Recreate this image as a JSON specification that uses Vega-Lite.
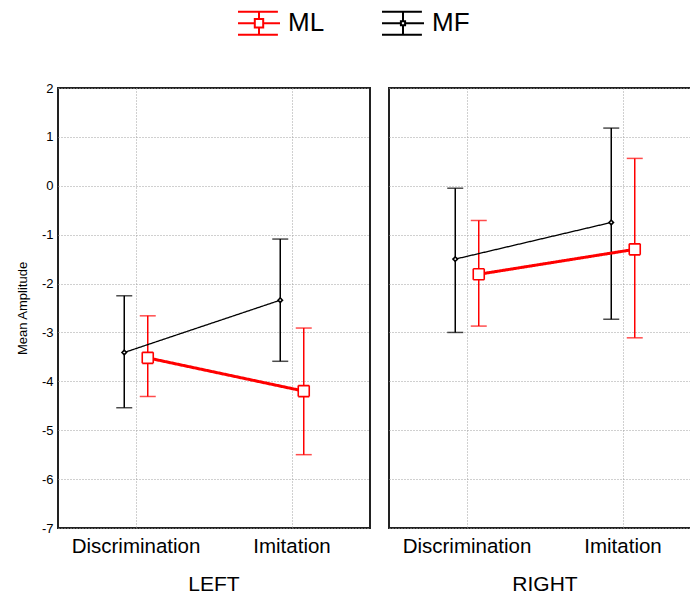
{
  "$schema": "https://vega.github.io/schema/vega-lite/v6.json",
  "padding": {"left": 16, "top": 1, "right": 0, "bottom": 0},
  "data": {
    "values": [
      {"side": "LEFT", "task": "Discrimination", "group": "MF", "mean": -3.41, "lo": -4.54, "hi": -2.25},
      {"side": "LEFT", "task": "Discrimination", "group": "ML", "mean": -3.52, "lo": -4.31, "hi": -2.66},
      {"side": "LEFT", "task": "Imitation", "group": "MF", "mean": -2.34, "lo": -3.59, "hi": -1.09},
      {"side": "LEFT", "task": "Imitation", "group": "ML", "mean": -4.2, "lo": -5.5, "hi": -2.91},
      {"side": "RIGHT", "task": "Discrimination", "group": "MF", "mean": -1.5, "lo": -3.0, "hi": -0.05},
      {"side": "RIGHT", "task": "Discrimination", "group": "ML", "mean": -1.81, "lo": -2.87, "hi": -0.71},
      {"side": "RIGHT", "task": "Imitation", "group": "MF", "mean": -0.75, "lo": -2.73, "hi": 1.18},
      {"side": "RIGHT", "task": "Imitation", "group": "ML", "mean": -1.3, "lo": -3.11, "hi": 0.56}
    ]
  },
  "facet": {
    "column": {
      "field": "side",
      "type": "nominal",
      "sort": ["LEFT", "RIGHT"],
      "header": {"title": null, "labelOrient": "bottom", "labelFontSize": 21, "labelPadding": 17, "labelColor": "#000", "labelFont": "Liberation Sans"}
    }
  },
  "spacing": {"column": 17},
  "spec": {
    "width": 312,
    "height": 440,
    "encoding": {
      "x": {
        "field": "task",
        "type": "nominal",
        "sort": ["Discrimination", "Imitation"],
        "title": null,
        "scale": {"paddingInner": 0, "paddingOuter": 0},
        "axis": {"labelAngle": 0, "labelFontSize": 20.5, "labelPadding": 7, "bandPosition": 0.5}
      },
      "xOffset": {
        "field": "group",
        "type": "nominal",
        "scale": {"domain": ["MF", "ML"], "paddingInner": 0, "paddingOuter": 0, "range": [54.5, 101.5]}
      },
      "color": {
        "field": "group",
        "type": "nominal",
        "scale": {"domain": ["MF", "ML"], "range": ["#000000", "#ff0000"]},
        "legend": null
      },
      "strokeDash": {
        "field": "group",
        "type": "nominal",
        "scale": {"domain": ["ML", "MF"], "range": [[1, 0], [1, 0]]},
        "legend": {
          "orient": "none",
          "legendX": 179,
          "legendY": -87,
          "direction": "horizontal",
          "title": null,
          "padding": 0,
          "labelFontSize": 26,
          "labelOffset": 7,
          "labelColor": "#000",
          "columnPadding": 53,
          "symbolSize": 1764,
          "encode": {
            "symbols": {
              "update": {
                "shape": {"signal": "datum.value === 'ML' ? 'M-1,-0.55H0.9M-1,0.55H0.9M-1,0H-0.2M0.2,0H1M0,-0.55V-0.2M0,0.2V0.55M-0.2,-0.2H0.2V0.2H-0.2Z' : 'M-1,-0.55H0.9M-1,0.55H0.9M-1,0H-0.1M0.1,0H1M0,-0.55V-0.1M0,0.1V0.55M-0.1,-0.1H0.1V0.1H-0.1Z'"},
                "stroke": {"signal": "datum.value === 'ML' ? '#ff0000' : '#000000'"},
                "fill": {"value": "#ffffff"},
                "strokeWidth": {"value": 2},
                "size": {"value": 1764},
                "opacity": {"value": 1}
              }
            }
          }
        }
      }
    },
    "layer": [
      {
        "mark": {"type": "rule", "strokeWidth": 1.5},
        "encoding": {
          "y": {"field": "lo", "type": "quantitative", "scale": {"domain": [-7, 2], "nice": false, "zero": false}, "title": "Mean Amplitude",
            "axis": {"values": [-7, -6, -5, -4, -3, -2, -1, 0, 1, 2], "labelExpr": "toString(datum.value)", "labelFontSize": 13, "labelPadding": 4, "titleFontSize": 13, "titleFontWeight": "normal", "titlePadding": 12}},
          "y2": {"field": "hi"}
        }
      },
      {
        "mark": {"type": "tick", "size": 16, "thickness": 1.5, "orient": "horizontal"},
        "encoding": {"y": {"field": "lo", "type": "quantitative"}}
      },
      {
        "mark": {"type": "tick", "size": 16, "thickness": 1.5, "orient": "horizontal"},
        "encoding": {"y": {"field": "hi", "type": "quantitative"}}
      },
      {
        "mark": {"type": "line"},
        "encoding": {
          "y": {"field": "mean", "type": "quantitative"},
          "strokeWidth": {"field": "group", "type": "nominal", "scale": {"domain": ["MF", "ML"], "range": [1.3, 3]}, "legend": null}
        }
      },
      {
        "mark": {"type": "point", "filled": false, "fill": "#ffffff", "fillOpacity": 1, "strokeWidth": 1.6},
        "encoding": {
          "y": {"field": "mean", "type": "quantitative"},
          "shape": {"field": "group", "type": "nominal", "scale": {"domain": ["MF", "ML"], "range": ["diamond", "square"]}, "legend": null},
          "size": {"field": "group", "type": "nominal", "scale": {"domain": ["MF", "ML"], "range": [20, 121]}, "legend": null}
        }
      }
    ]
  },
  "config": {
    "font": "Liberation Sans",
    "view": {"stroke": "#222222", "strokeWidth": 2},
    "axis": {"grid": true, "gridColor": "#a0a0a0", "gridDash": [1, 2], "gridWidth": 1, "domain": false, "ticks": false, "labelColor": "#000000", "titleColor": "#000000"}
  }
}
